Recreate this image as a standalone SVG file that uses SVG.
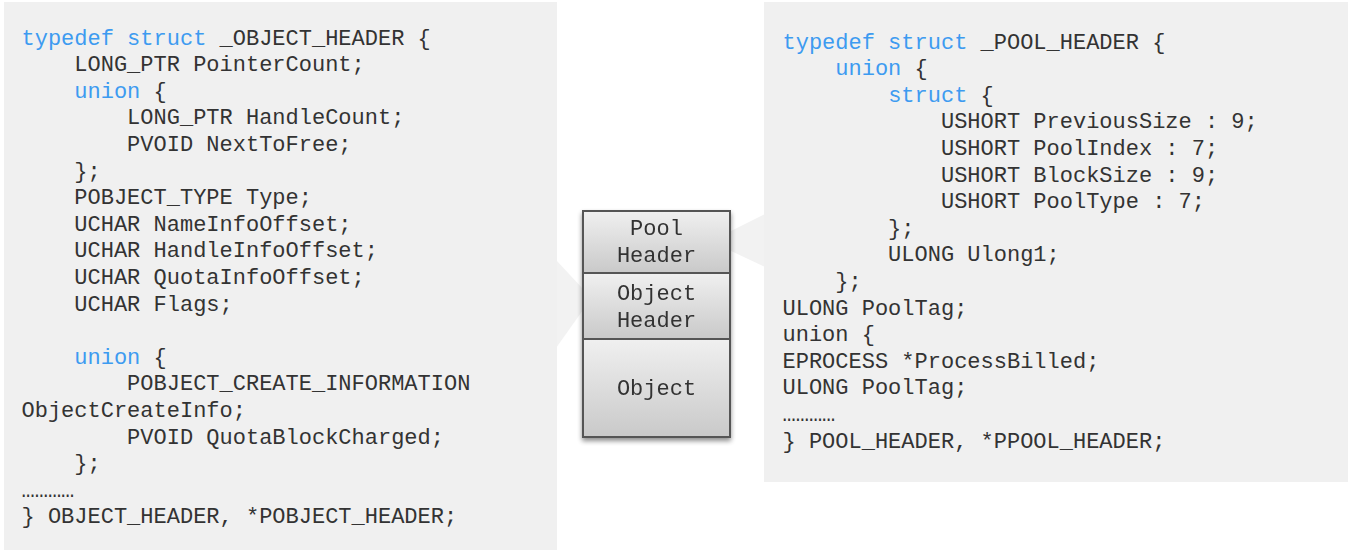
<svg xmlns="http://www.w3.org/2000/svg" width="1348" height="550" viewBox="0 0 1348 550">
<defs>
<style>
.code{font-family:"Liberation Mono","Courier New",monospace;font-size:22px;fill:#333333;white-space:pre}
.kw{fill:#3d9bf0}
.lbl{font-family:"Liberation Mono","Courier New",monospace;font-size:22px;fill:#333333;text-anchor:middle}
.panel{fill:#f0f0f0}
.wedge{fill:#f2f2f2}
.box{fill:url(#g);stroke:#555555;stroke-width:2}
</style>
<linearGradient id="g" x1="0" y1="0" x2="0" y2="1">
<stop offset="0" stop-color="#f0f0f0"/>
<stop offset="1" stop-color="#c9c9c9"/>
</linearGradient>
<filter id="sh" x="-10%" y="-10%" width="120%" height="130%">
<feGaussianBlur in="SourceAlpha" stdDeviation="2.5"/>
<feOffset dx="0" dy="3" result="b"/>
<feComponentTransfer><feFuncA type="linear" slope="0.45"/></feComponentTransfer>
<feMerge><feMergeNode/><feMergeNode in="SourceGraphic"/></feMerge>
</filter>
</defs>

<g id="connectors">
<polygon class="wedge" points="556,260 583,289 583,310 556,348"/>
<polygon class="wedge" points="729,232 765,214 765,267 729,250"/>
</g>

<g id="object-header-panel">
<rect class="panel" x="4" y="2" width="553" height="548"/>
<text class="code" x="21.5" y="44.5"><tspan class="kw">typedef struct</tspan> _OBJECT_HEADER {</text>
<text class="code" x="21.5" y="71.1">    LONG_PTR PointerCount;</text>
<text class="code" x="21.5" y="97.7">    <tspan class="kw">union</tspan> {</text>
<text class="code" x="21.5" y="124.3">        LONG_PTR HandleCount;</text>
<text class="code" x="21.5" y="150.9">        PVOID NextToFree;</text>
<text class="code" x="21.5" y="177.5">    };</text>
<text class="code" x="21.5" y="204.1">    POBJECT_TYPE Type;</text>
<text class="code" x="21.5" y="230.7">    UCHAR NameInfoOffset;</text>
<text class="code" x="21.5" y="257.3">    UCHAR HandleInfoOffset;</text>
<text class="code" x="21.5" y="283.9">    UCHAR QuotaInfoOffset;</text>
<text class="code" x="21.5" y="310.5">    UCHAR Flags;</text>
<text class="code" x="21.5" y="363.7">    <tspan class="kw">union</tspan> {</text>
<text class="code" x="21.5" y="390.3">        POBJECT_CREATE_INFORMATION</text>
<text class="code" x="21.5" y="416.9">ObjectCreateInfo;</text>
<text class="code" x="21.5" y="443.5">        PVOID QuotaBlockCharged;</text>
<text class="code" x="21.5" y="470.1">    };</text>
<text class="code" x="21.5" y="496.7">…………</text>
<text class="code" x="21.5" y="523.3">} OBJECT_HEADER, *POBJECT_HEADER;</text>
</g>

<g id="pool-header-panel">
<rect class="panel" x="764" y="2" width="584" height="480"/>
<text class="code" x="782.5" y="48.5"><tspan class="kw">typedef struct</tspan> _POOL_HEADER {</text>
<text class="code" x="782.5" y="75.1">    <tspan class="kw">union</tspan> {</text>
<text class="code" x="782.5" y="101.7">        <tspan class="kw">struct</tspan> {</text>
<text class="code" x="782.5" y="128.3">            USHORT PreviousSize : 9;</text>
<text class="code" x="782.5" y="154.9">            USHORT PoolIndex : 7;</text>
<text class="code" x="782.5" y="181.5">            USHORT BlockSize : 9;</text>
<text class="code" x="782.5" y="208.1">            USHORT PoolType : 7;</text>
<text class="code" x="782.5" y="234.7">        };</text>
<text class="code" x="782.5" y="261.3">        ULONG Ulong1;</text>
<text class="code" x="782.5" y="287.9">    };</text>
<text class="code" x="782.5" y="314.5">ULONG PoolTag;</text>
<text class="code" x="782.5" y="341.1">union {</text>
<text class="code" x="782.5" y="367.7">EPROCESS *ProcessBilled;</text>
<text class="code" x="782.5" y="394.3">ULONG PoolTag;</text>
<text class="code" x="782.5" y="420.9">…………</text>
<text class="code" x="782.5" y="447.5">} POOL_HEADER, *PPOOL_HEADER;</text>
</g>

<g id="memory-layout" filter="url(#sh)">
<g id="box-pool-header">
<rect class="box" x="583" y="211" width="147" height="62"/>
<text class="lbl" x="656.5" y="235">Pool</text>
<text class="lbl" x="656.5" y="262">Header</text>
</g>
<g id="box-object-header">
<rect class="box" x="583" y="273" width="147" height="66"/>
<text class="lbl" x="656.5" y="300">Object</text>
<text class="lbl" x="656.5" y="327">Header</text>
</g>
<g id="box-object">
<rect class="box" x="583" y="339" width="147" height="98"/>
<text class="lbl" x="656.5" y="395">Object</text>
</g>
</g>
</svg>
